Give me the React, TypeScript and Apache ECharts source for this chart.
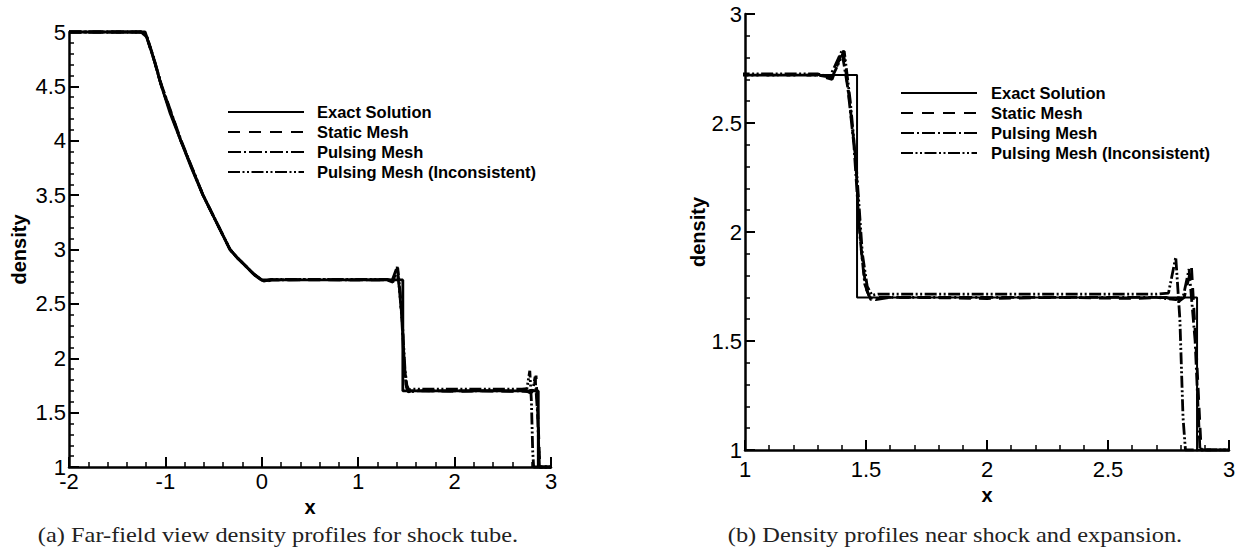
import React, { useEffect, useRef } from "react";
import * as echarts from "echarts";

const seriesNames = ["Exact Solution", "Static Mesh", "Pulsing Mesh", "Pulsing Mesh (Inconsistent)"];

const exactX = [-2, -1.21, -1.12, -1.04, -0.95, -0.84, -0.73, -0.61, -0.47, -0.33, -0.25, -0.17, -0.09, 0, 1.463, 1.463, 2.868, 2.868, 3];
const exactRho = [5, 5, 4.75, 4.5, 4.25, 4.0, 3.75, 3.5, 3.25, 3.0, 2.92, 2.85, 2.78, 2.72, 2.72, 1.70, 1.70, 1.0, 1.0];

const staticX = [-2, -1.25, -1.19, -1.12, -1.04, -0.84, -0.61, -0.33, -0.25, -0.17, -0.08, -0.02, 0.02, 0.1, 0.5, 1.0, 1.3, 1.36, 1.405, 1.43, 1.455, 1.48, 1.5, 1.52, 1.55, 1.7, 2.0, 2.3, 2.6, 2.74, 2.79, 2.815, 2.845, 2.865, 2.885, 3];
const staticRho = [5, 5, 4.94, 4.75, 4.5, 4.0, 3.5, 3.0, 2.92, 2.85, 2.77, 2.73, 2.7, 2.72, 2.72, 2.72, 2.72, 2.7, 2.84, 2.62, 2.36, 1.92, 1.74, 1.69, 1.7, 1.7, 1.695, 1.7, 1.695, 1.7, 1.68, 1.7, 1.84, 1.45, 1.0, 1.0];

const pulsingX = [-2, -1.25, -1.19, -1.12, -1.04, -0.84, -0.61, -0.33, -0.25, -0.17, -0.08, -0.02, 0.02, 0.1, 0.5, 1.0, 1.3, 1.35, 1.4, 1.425, 1.45, 1.475, 1.495, 1.515, 1.54, 1.6, 2.0, 2.4, 2.7, 2.78, 2.81, 2.835, 2.86, 2.88, 3];
const pulsingRho = [5, 5, 4.95, 4.76, 4.51, 4.01, 3.5, 3.0, 2.92, 2.85, 2.77, 2.73, 2.71, 2.72, 2.725, 2.72, 2.72, 2.71, 2.83, 2.66, 2.4, 1.98, 1.76, 1.7, 1.69, 1.7, 1.7, 1.7, 1.7, 1.69, 1.7, 1.83, 1.5, 1.0, 1.0];

const inconsX = [-2, -1.25, -1.19, -1.12, -1.04, -0.84, -0.61, -0.33, -0.25, -0.17, -0.08, -0.02, 0.02, 0.1, 0.5, 1.0, 1.3, 1.36, 1.41, 1.435, 1.46, 1.485, 1.505, 1.525, 1.55, 1.7, 2.0, 2.4, 2.7, 2.75, 2.78, 2.797, 2.81, 2.82, 3];
const inconsRho = [5, 5, 4.95, 4.75, 4.5, 4.0, 3.5, 3.0, 2.92, 2.85, 2.77, 2.73, 2.71, 2.725, 2.725, 2.725, 2.725, 2.71, 2.83, 2.6, 2.3, 1.9, 1.75, 1.71, 1.715, 1.715, 1.715, 1.715, 1.715, 1.72, 1.885, 1.6, 1.15, 1.0, 1.0];

const captionA = "(a) Far-field view density profiles for shock tube.";
const captionB = "(b) Density profiles near shock and expansion.";

const zip = (xs: number[], ys: number[]) => xs.map((x, i) => [x, ys[i]]);

const SANS = "'Liberation Sans', Arial, Helvetica, sans-serif";
const SERIF = "'Liberation Serif', 'DejaVu Serif', serif";

export default function App() {
  const ref = useRef<HTMLDivElement>(null);
  useEffect(() => {
    if (!ref.current) return;
    const chart = echarts.init(ref.current, undefined, { renderer: "svg" });

    const dashes: any[] = ["solid", [12, 8], [13, 3, 2, 3], [12, 2.5, 2, 2.5, 2, 2.5]];
    const legendDash: any[] = [null, [12, 9], [13, 3, 2, 3], [12, 2.5, 2, 2.5, 2, 2.5]];
    const datasets = [zip(exactX, exactRho), zip(staticX, staticRho), zip(pulsingX, pulsingRho), zip(inconsX, inconsRho)];

    const mkX = (gridIndex: number, min: number, max: number, interval: number, labelMargin: number, nameGap: number) => ({
      type: "value", gridIndex, min, max, interval,
      name: "x", nameLocation: "middle", nameGap,
      nameTextStyle: { color: "#000", fontSize: 20, fontWeight: "bold", fontFamily: SANS },
      axisLine: { show: true, onZero: false, lineStyle: { color: "#000", width: 2.5 } },
      axisTick: { show: true, inside: true, length: 10, lineStyle: { color: "#000", width: 2 } },
      minorTick: { show: true, splitNumber: 5, length: 5, lineStyle: { color: "#000", width: 1.5 } },
      splitLine: { show: false },
      axisLabel: { color: "#000", fontSize: 22, fontFamily: SANS, margin: labelMargin },
    });
    const mkY = (gridIndex: number, min: number, max: number, gap: number) => ({
      type: "value", gridIndex, min, max, interval: 0.5,
      name: "density", nameLocation: "middle", nameGap: gap,
      nameTextStyle: { color: "#000", fontSize: 20, fontWeight: "bold", fontFamily: SANS },
      axisLine: { show: true, onZero: false, lineStyle: { color: "#000", width: 2.5 } },
      axisTick: { show: true, inside: true, length: 10, lineStyle: { color: "#000", width: 2 } },
      minorTick: { show: true, splitNumber: 5, length: 5, lineStyle: { color: "#000", width: 1.5 } },
      splitLine: { show: false },
      axisLabel: { color: "#000", fontSize: 22, fontFamily: SANS, margin: 3 },
    });

    const series: any[] = [];
    [0, 1].forEach((g) => {
      seriesNames.forEach((name, i) => {
        series.push({
          type: "line", name, xAxisIndex: g, yAxisIndex: g,
          data: datasets[i], showSymbol: false, symbol: "none",
          clip: g === 1,
          lineStyle: { color: "#000", type: dashes[i], width: g === 1 && i === 0 ? 2 : 2.8 },
          z: 2 + i,
        });
      });
    });

    const legendGraphic = (lineX: number, textX: number, top: number) =>
      seriesNames.flatMap((name, i) => [
        {
          type: "line", silent: true,
          shape: { x1: lineX, y1: top + i * 20, x2: lineX + 76, y2: top + i * 20 },
          style: { stroke: "#000", lineWidth: 2.2, lineDash: legendDash[i] },
        },
        {
          type: "text", silent: true, x: textX, y: top + i * 20,
          style: { text: name, fill: "#000", font: `bold 16.5px ${SANS}`, verticalAlign: "middle", align: "left" },
        },
      ]);

    chart.setOption({
      animation: false,
      backgroundColor: "#fff",
      grid: [
        { left: 69, top: 32, width: 482, height: 435 },
        { left: 745, top: 14, width: 484, height: 436 },
      ],
      xAxis: [mkX(0, -2, 3, 1, 3, 19), mkX(1, 1, 3, 0.5, 8, 31)],
      yAxis: [mkY(0, 1, 5, 40), mkY(1, 1, 3, 31)],
      series,
      graphic: [
        ...legendGraphic(228, 317, 112),
        ...legendGraphic(901, 991, 93),
        { type: "text", silent: true, x: 278, y: 535, scaleX: 1.22, style: { text: captionA, fill: "#222", font: `20px ${SERIF}`, align: "center", verticalAlign: "middle" } },
        { type: "text", silent: true, x: 955, y: 535, scaleX: 1.22, style: { text: captionB, fill: "#222", font: `20px ${SERIF}`, align: "center", verticalAlign: "middle" } },
      ],
    });
    return () => chart.dispose();
  }, []);
  return <div ref={ref} style={{ position: "fixed", left: 0, top: 0, width: 1240, height: 550, background: "#fff" }} />;
}
